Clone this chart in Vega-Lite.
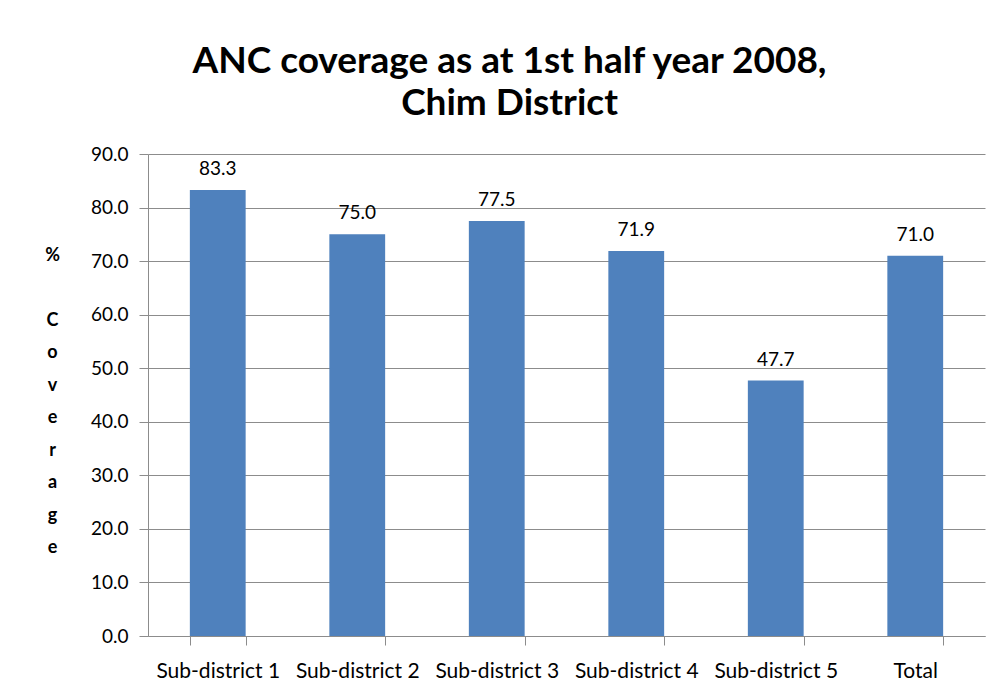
{
  "$schema": "https://vega.github.io/schema/vega-lite/v6.json",
  "width": 837,
  "height": 482,
  "autosize": {"type": "none"},
  "padding": {"left": 148, "top": 154, "right": 11, "bottom": 63},
  "background": "white",
  "title": {
    "text": ["ANC coverage as at 1st half year 2008,", "Chim District"],
    "font": "Lato",
    "fontSize": 37,
    "fontWeight": "bold",
    "color": "black",
    "anchor": "middle",
    "frame": "group",
    "dx": -57,
    "offset": 22,
    "lineHeight": 42
  },
  "data": {
    "values": [
      {"area": "Sub-district 1", "coverage": 83.3},
      {"area": "Sub-district 2", "coverage": 75.0},
      {"area": "Sub-district 3", "coverage": 77.5},
      {"area": "Sub-district 4", "coverage": 71.9},
      {"area": "Sub-district 5", "coverage": 47.7},
      {"area": "Total", "coverage": 71.0}
    ]
  },
  "encoding": {
    "x": {
      "field": "area",
      "type": "nominal",
      "sort": null,
      "scale": {"paddingInner": 0.6, "paddingOuter": 0.3},
      "axis": {
        "title": null,
        "labelAngle": 0,
        "labelFont": "Lato",
        "labelFontSize": 21,
        "labelColor": "black",
        "labelPadding": 15,
        "tickBand": "extent",
        "tickSize": 9,
        "tickColor": "#8c8c8c",
        "domainColor": "#8c8c8c",
        "grid": false
      }
    },
    "y": {
      "field": "coverage",
      "type": "quantitative",
      "scale": {"domain": [0, 90], "nice": false},
      "axis": {
        "values": [0, 10, 20, 30, 40, 50, 60, 70, 80, 90],
        "format": ".1f",
        "labelFont": "Lato",
        "labelFontSize": 19,
        "labelColor": "black",
        "labelPadding": 11,
        "tickSize": 9,
        "tickColor": "#8c8c8c",
        "domainColor": "#8c8c8c",
        "grid": true,
        "gridColor": "#8c8c8c",
        "gridOpacity": 1,
        "title": ["%", "\u2800", "C", "o", "v", "e", "r", "a", "g", "e"],
        "titleAngle": 0,
        "titleFont": "Lato",
        "titleFontSize": 18,
        "titleFontWeight": "bold",
        "titleColor": "black",
        "titleAlign": "center",
        "titleBaseline": "top",
        "titleX": -96,
        "titleY": 92,
        "titleLineHeight": 32.5
      }
    }
  },
  "layer": [
    {"mark": {"type": "bar", "color": "#4F81BD"}},
    {
      "mark": {"type": "text", "font": "Lato", "fontSize": 19, "color": "black", "baseline": "alphabetic", "dy": -15},
      "encoding": {"text": {"field": "coverage", "type": "quantitative", "format": ".1f"}}
    }
  ],
  "config": {"view": {"stroke": null}}
}
